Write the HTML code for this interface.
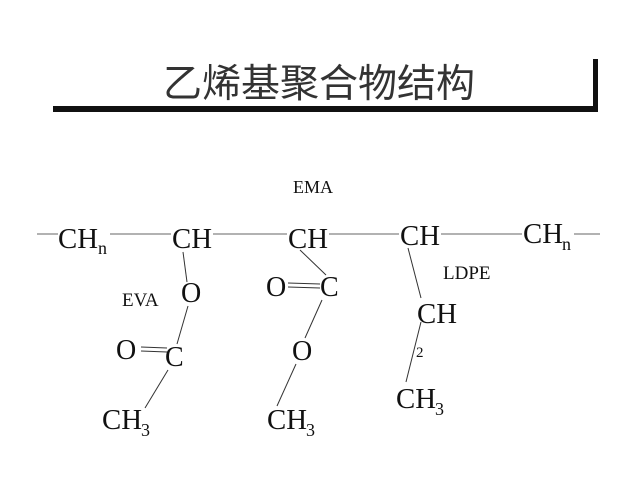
<!DOCTYPE html>
<html><head><meta charset="utf-8"><style>
html,body{margin:0;padding:0;background:#fff;width:640px;height:480px;overflow:hidden}
svg{display:block}
.t{font-family:"Liberation Serif",serif;fill:#111}
</style></head><body>
<svg width="640" height="480" viewBox="0 0 640 480">
<text x="319" y="97" text-anchor="middle" font-family="'Liberation Sans','Noto Sans CJK SC',sans-serif" font-size="39" fill="#333">乙烯基聚合物结构</text>
<rect x="53" y="106" width="545" height="6" fill="#111"/>
<rect x="593" y="59" width="5" height="53" fill="#111"/>
<g stroke="#999" stroke-width="1.5"><line x1="37" y1="234" x2="600" y2="234"/></g>
<rect x="58" y="220" width="52" height="28" fill="#fff"/>
<rect x="171" y="220" width="42" height="28" fill="#fff"/>
<rect x="287" y="220" width="42" height="28" fill="#fff"/>
<rect x="399" y="218" width="42" height="28" fill="#fff"/>
<rect x="522" y="218" width="52" height="28" fill="#fff"/>
<g stroke="#333" stroke-width="1">
<line x1="183" y1="252" x2="187" y2="282"/>
<line x1="188" y1="306" x2="177" y2="344"/>
<line x1="168" y1="370" x2="145" y2="408"/>
<line x1="300" y1="250" x2="326" y2="275"/>
<line x1="322" y1="300" x2="305" y2="338"/>
<line x1="296" y1="364" x2="277" y2="406"/>
<line x1="408" y1="248" x2="421" y2="298"/>
<line x1="421" y1="322" x2="406" y2="382"/>
<line x1="141" y1="347" x2="167" y2="348"/>
<line x1="141" y1="351" x2="167" y2="352"/>
<line x1="288" y1="283" x2="320" y2="284"/>
<line x1="288" y1="287" x2="320" y2="288"/>
</g>
<g class="t" font-size="28">
<text x="58" y="248" textLength="40" lengthAdjust="spacingAndGlyphs">CH</text><text x="98" y="254" font-size="18">n</text>
<text x="172" y="248" textLength="40" lengthAdjust="spacingAndGlyphs">CH</text>
<text x="288" y="248" textLength="40" lengthAdjust="spacingAndGlyphs">CH</text>
<text x="400" y="245" textLength="40" lengthAdjust="spacingAndGlyphs">CH</text>
<text x="523" y="243" textLength="40" lengthAdjust="spacingAndGlyphs">CH</text><text x="562" y="250" font-size="18">n</text>
<text x="181" y="302">O</text>
<text x="266" y="296">O</text><text x="320" y="296">C</text>
<text x="417" y="323" textLength="40" lengthAdjust="spacingAndGlyphs">CH</text>
<text x="416" y="357" font-size="15">2</text>
<text x="116" y="359">O</text><text x="165" y="366">C</text>
<text x="292" y="360">O</text>
<text x="102" y="429" textLength="40" lengthAdjust="spacingAndGlyphs">CH</text><text x="141" y="436" font-size="18">3</text>
<text x="267" y="429" textLength="40" lengthAdjust="spacingAndGlyphs">CH</text><text x="306" y="436" font-size="18">3</text>
<text x="396" y="408" textLength="40" lengthAdjust="spacingAndGlyphs">CH</text><text x="435" y="415" font-size="18">3</text>
</g>
<g class="t" font-size="18" fill="#222">
<text x="293" y="193">EMA</text>
<text x="443" y="279" font-size="19">LDPE</text>
<text x="122" y="306" font-size="19">EVA</text>
</g>
</svg>
</body></html>
